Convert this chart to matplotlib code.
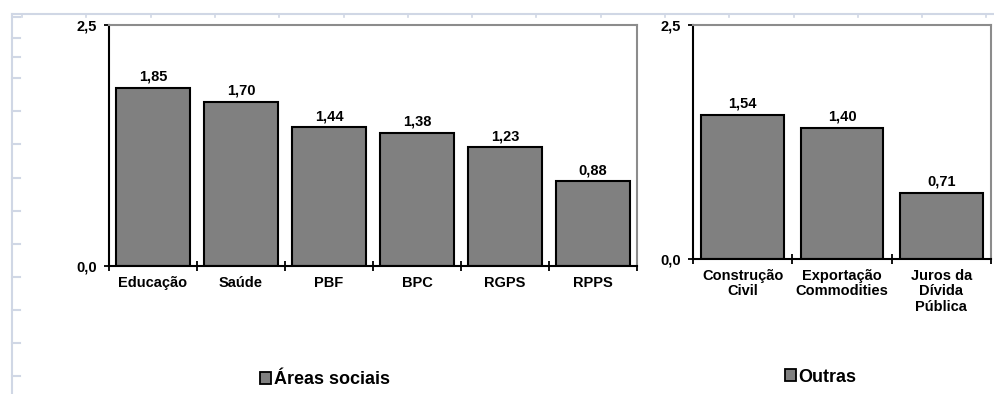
import matplotlib.pyplot as plt
import numpy as np
from matplotlib.lines import Line2D
from matplotlib.patches import Patch

# Multiplicadores por área de gasto
social_labels = ["Educação", "Saúde", "PBF", "BPC", "RGPS", "RPPS"]
social_values = [1.85, 1.70, 1.44, 1.38, 1.23, 0.88]

other_labels = ["Construção\nCivil", "Exportação\nCommodities", "Juros da\nDívida\nPública"]
other_values = [1.54, 1.40, 0.71]

y_ticks = [0.0, 2.5]
legend_names = ["Áreas sociais", "Outras"]

BAR_COLOR = "#808080"
GRID_COLOR = "#d0d7e5"
FS = 10.5

plt.rcParams["font.family"] = ["Liberation Sans", "DejaVu Sans"]
plt.rcParams["font.weight"] = "bold"


def fmt(v, nd):
    return f"{v:.{nd}f}".replace(".", ",")


def draw_panel(ax, labels, values, legend_name, legend_xy):
    x = np.arange(len(values))
    ax.bar(x, values, width=0.83, color=BAR_COLOR, edgecolor="black", linewidth=1.5)
    for xi, v in zip(x, values):
        ax.annotate(fmt(v, 2), (xi, v), xytext=(0, 3), textcoords="offset points",
                    ha="center", va="bottom", fontsize=FS, fontweight="bold")

    ax.set_xlim(-0.5, len(values) - 0.5)
    ax.set_ylim(0, 2.5)
    ax.set_yticks(y_ticks)
    ax.set_yticklabels([fmt(t, 1) for t in y_ticks], fontsize=FS, fontweight="bold")
    ax.tick_params(axis="y", direction="inout", length=7, width=1.3, pad=5)

    ax.set_xticks(x)
    ax.set_xticklabels(labels, fontsize=FS, fontweight="bold", linespacing=1.15)
    ax.tick_params(axis="x", which="major", length=0, pad=7)
    ax.set_xticks(np.arange(len(values) + 1) - 0.5, minor=True)
    ax.tick_params(axis="x", which="minor", direction="inout", length=7, width=1.3)

    for side in ("left", "bottom"):
        ax.spines[side].set_color("black")
        ax.spines[side].set_linewidth(1.5)
    for side in ("top", "right"):
        ax.spines[side].set_color("#8c8c8c")
        ax.spines[side].set_linewidth(1.5)

    handle = Patch(facecolor=BAR_COLOR, edgecolor="black", linewidth=1.3, label=legend_name)
    ax.legend(handles=[handle], loc="center left", bbox_to_anchor=legend_xy,
              bbox_transform=ax.figure.transFigure, frameon=False,
              borderpad=0, borderaxespad=0, handlelength=0.6, handleheight=0.6,
              handletextpad=0.15, prop={"size": 13, "weight": "bold"})


W, H = 995, 394
fig = plt.figure(figsize=(W / 100, H / 100), dpi=100)

# pale sheet gridlines around the chart area
fig.add_artist(Line2D([12 / W, 1], [1 - 14 / H] * 2, color=GRID_COLOR, lw=1.5))
fig.add_artist(Line2D([12 / W] * 2, [1 - 14 / H, 0], color=GRID_COLOR, lw=1.5))
for yy in [17, 38, 57, 78, 111, 144, 178, 211, 244, 277, 310, 343, 376]:
    fig.add_artist(Line2D([12 / W, 20 / W], [1 - yy / H] * 2, color=GRID_COLOR, lw=1.5))
for xx in np.arange(22, W, 64.3):
    fig.add_artist(Line2D([xx / W] * 2, [1 - 14 / H, 1 - 17 / H], color=GRID_COLOR, lw=1.2))

ax1 = fig.add_axes([109 / W, 1 - 266 / H, 528 / W, 241 / H])
ax2 = fig.add_axes([693 / W, 1 - 259 / H, 298 / W, 234 / H])

draw_panel(ax1, social_labels, social_values, legend_names[0], (260 / W, 1 - 380 / H))
draw_panel(ax2, other_labels, other_values, legend_names[1], (785 / W, 1 - 377 / H))

fig.savefig("out.png", dpi=100)
plt.close(fig)
